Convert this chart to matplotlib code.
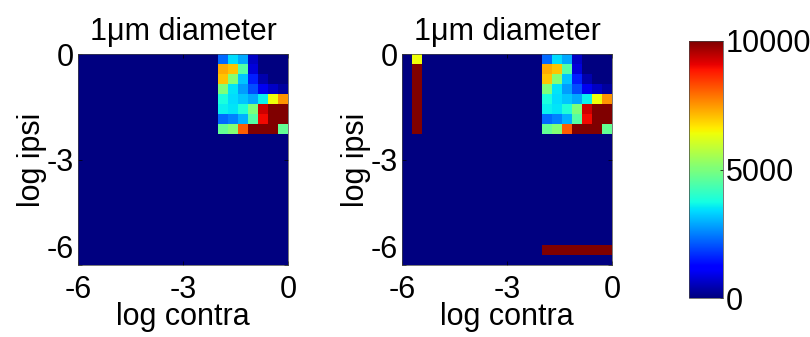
import numpy as np
import matplotlib
matplotlib.use("Agg")
import matplotlib.pyplot as plt

plt.rcParams['font.family'] = ['Liberation Sans', 'DejaVu Sans']

# log axis range, 21 cells per side
axis_min = -6
axis_max = 0
n_cells = 21

# values of the non-zero block in the top right corner (rows from top, last 7 columns)
hot_block = [
    [2300, 3400, 2900, 600, 0, 0, 0],
    [7300, 7000, 4500, 800, 0, 0, 0],
    [7000, 5100, 3200, 1550, 400, 0, 0],
    [5000, 3500, 2800, 2000, 1000, 600, 300],
    [3800, 3400, 3200, 2900, 3600, 6400, 7500],
    [3600, 3500, 3900, 5000, 9300, 10000, 10000],
    [2300, 2500, 3000, 4500, 9000, 10000, 10000],
    [4700, 5100, 8100, 10000, 10000, 10000, 4700],
]
# extra strips in the second panel
left_strip = [6400, 10000, 10000, 10000, 10000, 10000, 10000, 10000]  # column 1, rows 0..7
bottom_strip = [10000] * 7  # row 19, last 7 columns

titles = ["1\u03bcm diameter", "1\u03bcm diameter"]
ticks = [-6, -3, 0]
cbar_ticks = [0, 5000, 10000]
fs = 22


def make_grid(extra):
    g = np.zeros((n_cells, n_cells))
    hb = np.array(hot_block)
    g[:hb.shape[0], n_cells - hb.shape[1]:] = hb
    if extra:
        g[:len(left_strip), 1] = left_strip
        g[19, n_cells - len(bottom_strip):] = bottom_strip
    return g


fig = plt.figure(figsize=(8.1, 3.37), dpi=100)
W, H = 810, 337
lefts = [78, 402]
edges = np.linspace(axis_min, axis_max, n_cells + 1)

for i, lx in enumerate(lefts):
    ax = fig.add_axes([lx / W, (H - 265) / H, 210 / W, 211 / H])
    grid = make_grid(i == 1)
    # row 0 is the top (log ipsi = 0)
    mesh = ax.pcolormesh(edges, edges[::-1], grid, cmap='jet', vmin=0, vmax=10000)
    ax.set_xlim(axis_min, axis_max)
    ax.set_ylim(axis_min, axis_max)
    ax.set_xticks(ticks)
    ax.set_yticks(ticks)
    ax.set_xticklabels([str(t) for t in ticks])
    ax.set_yticklabels([str(t) for t in ticks])
    ax.tick_params(direction='in', length=3, width=0.5, labelsize=fs, pad=3,
                   top=True, right=True)
    ax.tick_params(axis='x', pad=7)
    ax.get_yticklabels()[0].set_verticalalignment('bottom')
    for s in ax.spines.values():
        s.set_linewidth(0.5)
        s.set_color('#444444')
    ax.set_title(titles[i], fontsize=fs, pad=10)
    ax.set_xlabel("log contra", fontsize=fs, labelpad=-2)
    ax.set_ylabel("log ipsi", fontsize=fs, labelpad=0)

cax = fig.add_axes([689 / W, (H - 298) / H, 34 / W, 257 / H])
cb = fig.colorbar(mesh, cax=cax, ticks=cbar_ticks)
cb.ax.tick_params(labelsize=fs, length=2, width=0.5, direction='in', pad=2)
cb.outline.set_linewidth(0.5)
cb.outline.set_edgecolor('#444444')

fig.savefig("out.png", dpi=100)
